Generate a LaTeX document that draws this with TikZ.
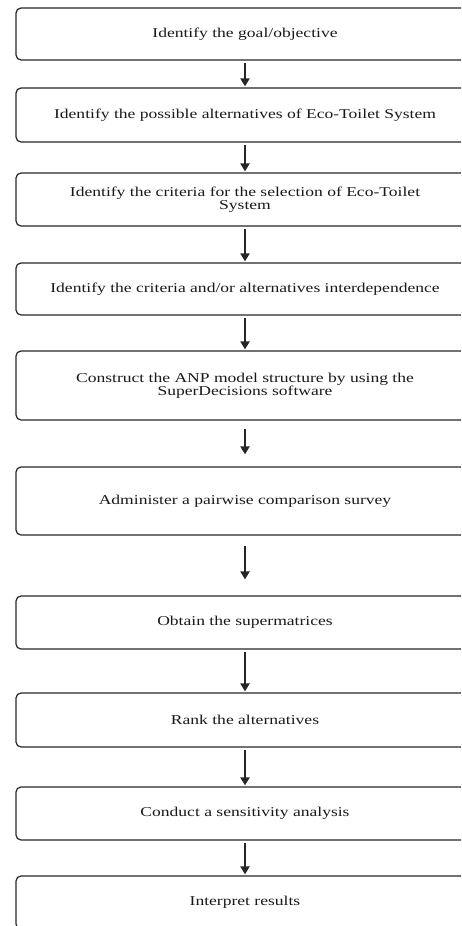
\documentclass[tikz,border=0pt]{standalone}
\usepackage{fontspec}
\setmainfont{Liberation Serif}[FakeStretch=1.3]
\usetikzlibrary{arrows.meta}
\tikzset{
  stepbox/.style={draw=black!85, line width=1.2pt, rounded corners=5pt,
    minimum width=458pt, align=center, inner sep=0pt,
    font=\fontsize{13.5}{13.5}\selectfont, text=black!90},
  flow/.style={line width=2pt, black!85, shorten <=2pt, shorten >=1pt,
    -{Triangle[width=9pt,length=8pt]}}
}
\begin{document}
\begin{tikzpicture}[x=1pt,y=-1pt]
    \clip (0,0) rectangle (461,926);
    \node[stepbox, minimum height=52pt] (s1) at (245,34) {Identify the goal/objective};
    \node[stepbox, minimum height=54pt] (s2) at (245,115) {Identify the possible alternatives of Eco-Toilet System};
    \node[stepbox, minimum height=53pt] (s3) at (245,199.5) {Identify the criteria for the selection of Eco-Toilet\\ System};
    \node[stepbox, minimum height=52pt] (s4) at (245,289) {Identify the criteria and/or alternatives interdependence};
    \node[stepbox, minimum height=69pt] (s5) at (245,385.5) {Construct the ANP model structure by using the\\ SuperDecisions software};
    \node[stepbox, minimum height=68pt] (s6) at (245,501) {Administer a pairwise comparison survey};
    \node[stepbox, minimum height=53pt] (s7) at (245,622.5) {Obtain the supermatrices};
    \node[stepbox, minimum height=54pt] (s8) at (245,720) {Rank the alternatives};
    \node[stepbox, minimum height=53pt] (s9) at (245,813.5) {Conduct a sensitivity analysis};
    \node[stepbox, minimum height=53pt] (s10) at (245,902.5) {Interpret results};
    % arrows between the steps
    \foreach \a/\b in {s1/s2,s2/s3,s3/s4,s4/s5,s7/s8,s8/s9,s9/s10}
      \draw[flow] (\a) -- (\b);
    \draw[flow, shorten <=8pt, shorten >=12pt] (s5) -- (s6);
    \draw[flow, shorten <=10pt, shorten >=16pt] (s6) -- (s7);
\end{tikzpicture}
\end{document}
